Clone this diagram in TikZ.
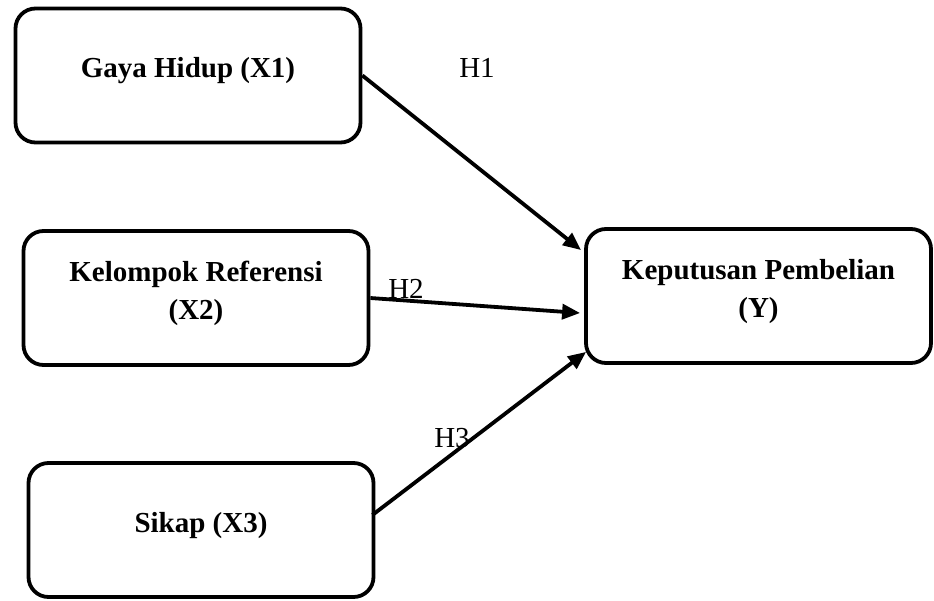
\documentclass[tikz,border=0pt]{standalone}
\usepackage{fontspec}
\setmainfont{Liberation Serif}
\usetikzlibrary{arrows.meta}
\begin{document}
\begin{tikzpicture}[x=1pt,y=-1pt,every node/.style={font=\fontsize{29}{38}\selectfont}]
    \tikzset{
      var/.style={draw,rectangle,rounded corners=20pt,line width=3.8pt,
        minimum width=345pt,minimum height=134pt,align=center,
        text depth=16pt,font=\fontsize{29}{38}\selectfont\bfseries},
      hyp/.style={inner sep=0pt},
      arr/.style={-{Triangle[length=18pt,width=15pt]},line width=3.8pt}
    }
    \useasboundingbox (0,0) rectangle (934,600);

    \node[var] (gaya) at (188,75.5) {Gaya Hidup (X1)};
    \node[var] (ref) at (196,298) {Kelompok Referensi\\(X2)};
    \node[var] (sikap) at (201,530) {Sikap (X3)};
    \node[var] (kep) at (758.5,296) {Keputusan Pembelian\\(Y)};

    \draw[arr] (gaya.east) -- ([xshift=-3pt,yshift=-23pt]kep.north west);
    \draw[arr] (ref.east) -- ([xshift=-4pt,yshift=-17pt]kep.west);
    \draw[arr] ([xshift=-3pt,yshift=15pt]sikap.east) -- ([xshift=2pt,yshift=13pt]kep.south west);

    \node[hyp] (h1) at (477,68) {H1};
    \node[hyp] (h2) at (406,289) {H2};
    \node[hyp] (h3) at (452,438) {H3};
  \end{tikzpicture}
\end{document}
